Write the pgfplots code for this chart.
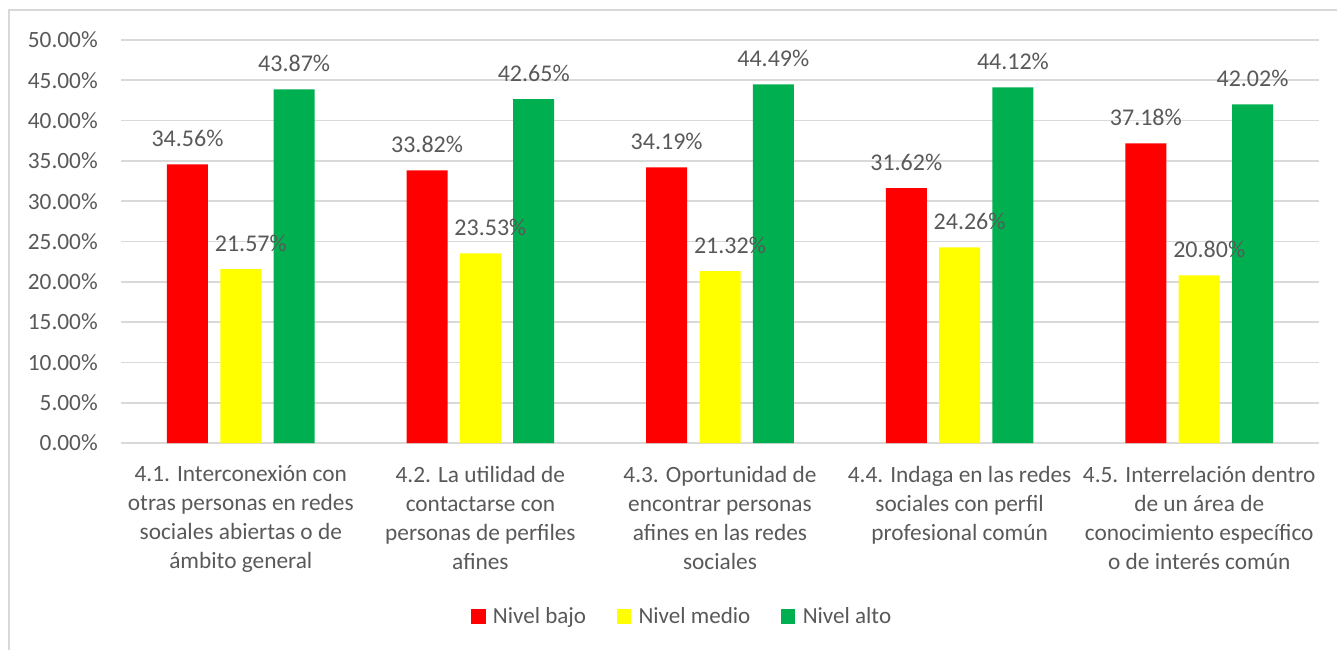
\documentclass[border=0pt]{standalone}
\usepackage{pgfplots}
\pgfplotsset{compat=1.18}
\usepackage{fontspec}
\setmainfont{Carlito}
\definecolor{txt}{HTML}{595959}
\definecolor{grd}{HTML}{D9D9D9}
\definecolor{cred}{HTML}{FF0000}
\definecolor{cyel}{HTML}{FFFF00}
\definecolor{cgrn}{HTML}{00B050}
\begin{document}
\begin{tikzpicture}
\path[use as bounding box] (0,0) rectangle (1002.75pt,487.5pt);
\draw[grd, line width=1.5pt] (6.75pt,0pt) -- (6.75pt,480pt) -- (1002.75pt,480pt);
\begin{axis}[
  at={(90.75pt,155.25pt)}, anchor=south west,
  scale only axis, width=898.5pt, height=302.25pt,
  xmin=-0.5, xmax=4.5, ymin=0, ymax=50,
  ytick={0,5,...,50}, xtick={0,1,2,3,4},
  xticklabels={
    {4.1. Interconexión con\\otras personas en redes\\sociales abiertas o de\\ámbito general},
    {4.2. La utilidad de\\contactarse con\\personas de perfiles\\afines},
    {4.3. Oportunidad de\\encontrar personas\\afines en las redes\\sociales},
    {4.4. Indaga en las redes\\sociales con perfil\\profesional común},
    {4.5. Interrelación dentro\\de un área de\\conocimiento específico\\o de interés común}},
  axis line style={draw=none},
  major tick length=0pt,
  ymajorgrids, grid style={grd, line width=1.3pt},
  /pgf/number format/assume math mode=true,
  yticklabel={\pgfmathprintnumber[fixed,fixed zerofill,precision=2]{\tick}\%},
  yticklabel style={font=\fontsize{17.5}{20}\selectfont, text=txt, anchor=east, inner sep=0pt, xshift=-17.25pt},
  xticklabel style={font=\fontsize{17.5}{21.75}\selectfont, text=txt, align=center, anchor=north, inner sep=0pt, yshift=-17pt},
  legend columns=3,
  legend style={draw=none, at={(0.4687,-0.431)}, anchor=center, font=\fontsize{17.3}{20}\selectfont, text=txt,
    /tikz/every even column/.append style={column sep=21pt},
    /tikz/every odd column/.append style={column sep=3.5pt}},
  legend cell align=left,
  lab/.style={ybar, bar width=30.75pt, draw=none, fill=none, forget plot,
    nodes near coords={\pgfmathprintnumber[fixed,fixed zerofill,precision=2]{\pgfplotspointmeta}\%},
    every node near coord/.append style={font=\fontsize{18}{20}\selectfont, text=txt, anchor=south, inner sep=0pt, yshift=13pt, xshift=#1}},
]
\addplot[ybar, bar width=30.75pt, bar shift=-40pt, fill=cred, draw=none,
  legend image code/.code={\fill[cred] (0pt,-5.4pt) rectangle (10.8pt,5.4pt);}]
  coordinates {(0,34.56)(1,33.82)(2,34.19)(3,31.62)(4,37.18)};
\addlegendentry{Nivel bajo}
\addplot[ybar, bar width=30.75pt, bar shift=0pt, fill=cyel, draw=none,
  legend image code/.code={\fill[cyel] (0pt,-5.4pt) rectangle (10.8pt,5.4pt);}]
  coordinates {(0,21.57)(1,23.53)(2,21.32)(3,24.26)(4,20.80)};
\addlegendentry{Nivel medio}
\addplot[ybar, bar width=30.75pt, bar shift=40pt, fill=cgrn, draw=none,
  legend image code/.code={\fill[cgrn] (0pt,-5.4pt) rectangle (10.8pt,5.4pt);}]
  coordinates {(0,43.87)(1,42.65)(2,44.49)(3,44.12)(4,42.02)};
\addlegendentry{Nivel alto}
\addplot[lab=-40pt, bar shift=-40pt]
  coordinates {(0,34.56)(1,33.82)(2,34.19)(3,31.62)(4,37.18)};
\addplot[lab=7.5pt, bar shift=0pt]
  coordinates {(0,21.57)(1,23.53)(2,21.32)(3,24.26)(4,20.80)};
\addplot[lab=40pt, bar shift=40pt]
  coordinates {(0,43.87)(1,42.65)(2,44.49)(3,44.12)(4,42.02)};
\end{axis}
\end{tikzpicture}
\end{document}
